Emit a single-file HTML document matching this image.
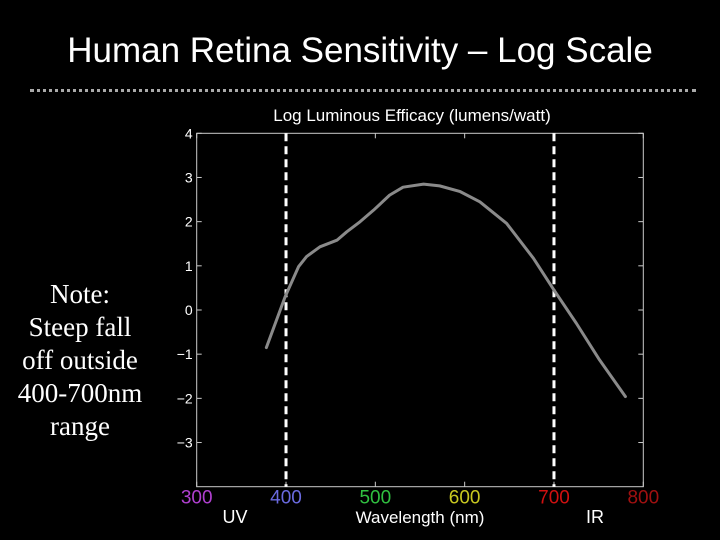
<!DOCTYPE html>
<html><head><meta charset="utf-8"><style>
html,body{margin:0;padding:0;background:#000;}
#wrap{position:relative;width:720px;height:540px;overflow:hidden;background:#000;font-family:"Liberation Sans",sans-serif;color:#fff;}
#title{position:absolute;left:0;width:720px;top:31px;text-align:center;font-size:35px;line-height:40px;}
#rule{position:absolute;left:30px;width:666px;top:89px;border-top:3px dotted #aaa;}
#note{position:absolute;left:0;width:160px;top:278px;text-align:center;font-family:"Liberation Serif",serif;font-size:27px;line-height:33px;}
</style></head><body>
<div id="wrap">
<div id="title">Human Retina Sensitivity – Log Scale</div>
<div id="rule"></div>
<div id="note">Note:<br>Steep fall<br>off outside<br>400-700nm<br>range</div>
<svg id="chart" width="720" height="540" style="position:absolute;left:0;top:0"></svg>
</div>
<script>
const wavelengths=[378,399,414,423,438,457,468,483,498,516,531,554,572,595,617,647,677,700,725,751,780];
const efficacy=[-0.85,0.30,0.98,1.21,1.43,1.58,1.77,2.00,2.26,2.60,2.78,2.85,2.81,2.68,2.45,1.96,1.17,0.45,-0.30,-1.13,-1.96];
const xTicks=[300,400,500,600,700,800];
const xTickColors=["#b040d0","#6a6ae0","#30c040","#c8c820","#d01010","#a01010"];
const yTicks=[4,3,2,1,0,-1,-2,-3];
const yTickLabels=["4","3","2","1","0","\u22121","\u22122","\u22123"];
const bounds=[400,700];
const L=196.7,R=643.3,T=133.3,B=486.7;
const xs=v=>L+(v-300)/500*(R-L);
const ys=v=>T+(4-v)/8*(B-T);
const NS="http://www.w3.org/2000/svg";
const svg=document.getElementById('chart');
function mk(t,a){const e=document.createElementNS(NS,t);for(const k in a)e.setAttribute(k,a[k]);svg.appendChild(e);return e;}
let e=mk('rect',{x:L,y:T,width:R-L,height:B-T,fill:'none',stroke:'#ccc','stroke-width':1});


yTicks.forEach((v,i)=>{
 const y=ys(v);
 let t=mk('line',{x1:L,x2:L+5,y1:y,y2:y,stroke:'#ccc'});
 
 
 t=mk('line',{x1:R-5,x2:R,y1:y,y2:y,stroke:'#ccc'});
 
 
 const tx=mk('text',{x:L-4,y:y+5,'text-anchor':'end',fill:'#fff','font-size':14,'font-family':'Liberation Sans, sans-serif'});
 tx.textContent=yTickLabels[i];
 
 
});
xTicks.forEach((v,i)=>{
 const x=xs(v);
 let t=mk('line',{x1:x,x2:x,y1:T,y2:T+5,stroke:'#ccc'});
 
 
 t=mk('line',{x1:x,x2:x,y1:B-5,y2:B,stroke:'#ccc'});
 
 
 const tx=mk('text',{x:x,y:B+17,'text-anchor':'middle',fill:xTickColors[i],'font-size':19,'font-family':'Liberation Sans, sans-serif'});
 tx.textContent=String(v);
 
 
});
bounds.forEach(v=>{
 const l=mk('line',{x1:xs(v),x2:xs(v),y1:T,y2:B,stroke:'#fff','stroke-width':3,'stroke-dasharray':'8,5'});
 
 
});
const p=mk('polyline',{points:wavelengths.map((w,i)=>xs(w)+','+ys(efficacy[i])).join(' '),fill:'none',stroke:'#8a8a8a','stroke-width':3,'stroke-linejoin':'round','stroke-linecap':'round'});


function lab(txt,x,y,size,name){const t=mk('text',{x:x,y:y,'text-anchor':'middle',fill:'#fff','font-size':size,'font-family':'Liberation Sans, sans-serif'});t.textContent=txt;}
lab('Log Luminous Efficacy (lumens/watt)',412,121,17,'y-axis-title');
lab('UV',235,523,18,'uv-label');
lab('Wavelength (nm)',420,523,17,'x-axis-title');
lab('IR',595,523,18,'ir-label');
</script>
</body></html>
